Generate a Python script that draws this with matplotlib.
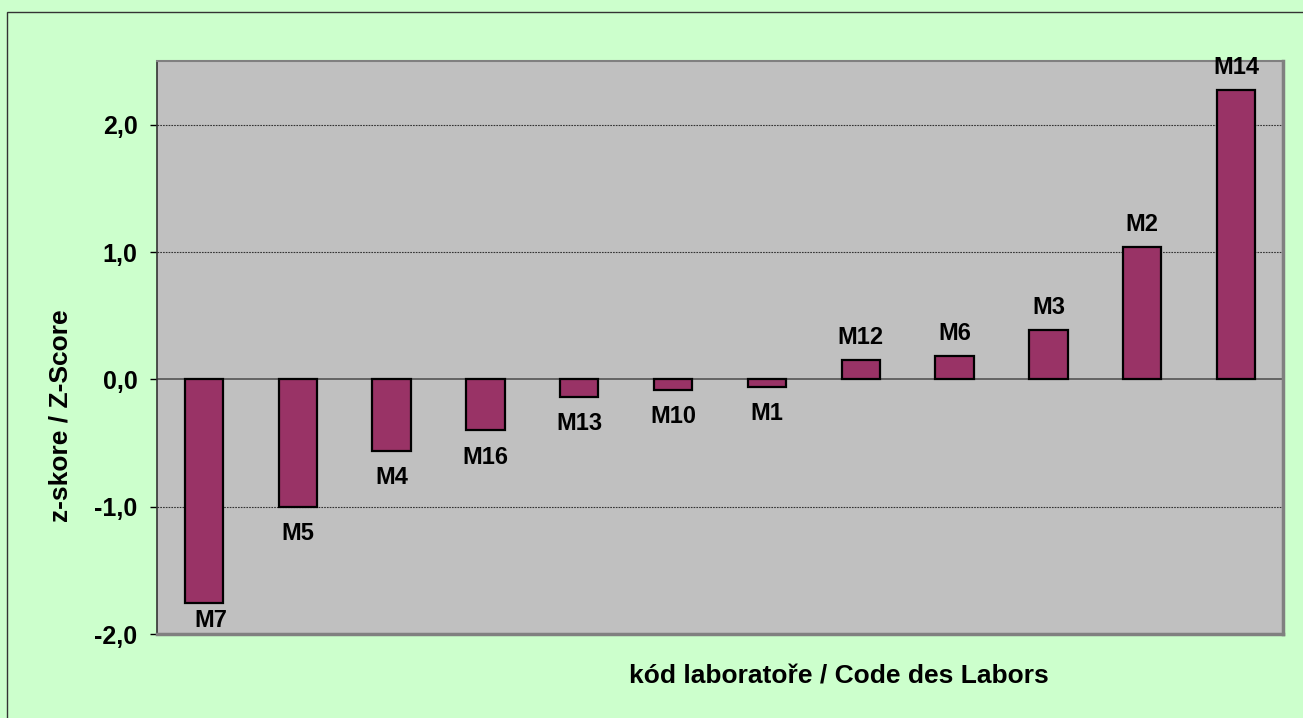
#!/usr/bin/env python3
"""z-score bar chart per laboratory."""

import matplotlib.pyplot as plt
from matplotlib.patches import Rectangle
from matplotlib.ticker import FuncFormatter
import numpy as np

labs = ["M7", "M5", "M4", "M16", "M13", "M10", "M1", "M12", "M6", "M3", "M2", "M14"]
zscores = [-1.76, -1.00, -0.56, -0.40, -0.14, -0.08, -0.06, 0.15, 0.18, 0.39, 1.04, 2.27]
yticks = [-2.0, -1.0, 0.0, 1.0, 2.0]

BG = "#ccffcc"
PLOT_BG = "#c0c0c0"
BAR = "#993366"
INK = "#000000"
FRAME = "#808080"

plt.rcParams["font.family"] = ["Liberation Sans", "DejaVu Sans"]
plt.rcParams["font.weight"] = "bold"

W, H = 1303, 718
fig = plt.figure(figsize=(W / 100, H / 100), dpi=100, facecolor=BG)

# outer chart frame (only left/top edges fall inside the picture)
fig.patches.append(Rectangle((7 / W, -0.01), 1.02, 1 - 12 / H + 0.01,
                             transform=fig.transFigure, fill=False,
                             edgecolor="#333333", linewidth=1.0))

left, right, top, bottom = 157, 1283, 61, 634
ax = fig.add_axes([left / W, 1 - bottom / H, (right - left) / W, (bottom - top) / H])
ax.set_facecolor(PLOT_BG)

x = np.arange(len(labs))
ax.bar(x, zscores, width=0.41, color=BAR, edgecolor=INK, linewidth=1.6, zorder=3)

for xi, v, name in zip(x, zscores, labs):
    if v >= 0:
        ax.annotate(name, (xi, v), xytext=(0, 8), textcoords="offset points",
                    ha="center", va="bottom", fontsize=17, fontweight="bold", zorder=4)
    elif v < -1.5:
        # label squeezed against the bottom of the plot area
        ax.annotate(name, (xi, v), xytext=(5, -4), textcoords="offset points",
                    ha="center", va="top", fontsize=17, fontweight="bold", zorder=4)
    else:
        ax.annotate(name, (xi, v), xytext=(0, -11), textcoords="offset points",
                    ha="center", va="top", fontsize=17, fontweight="bold", zorder=4)

ax.set_xlim(-0.5, len(labs) - 0.5)
ax.set_ylim(-2.0, 2.5)
ax.set_yticks(yticks)
ax.yaxis.set_major_formatter(FuncFormatter(lambda v, _: f"{v:.1f}".replace(".", ",")))
ax.set_xticks([])
ax.tick_params(axis="y", direction="out", length=5, width=1.0, color=INK,
               labelsize=18, pad=9)
for lab in ax.get_yticklabels():
    lab.set_fontweight("bold")

for g in [-1.0, 1.0, 2.0]:
    ax.axhline(g, color="#333333", linestyle=(0, (1.5, 1.0)), linewidth=0.8, zorder=1)
ax.axhline(0, color="#555555", linewidth=1.2, zorder=2)

ax.spines["left"].set_color("#333333")
ax.spines["left"].set_linewidth(1.2)
ax.spines["top"].set_color(FRAME)
ax.spines["top"].set_linewidth(1.5)
for s in ("right", "bottom"):
    ax.spines[s].set_color(FRAME)
    ax.spines[s].set_linewidth(2.5)

fig.text(60 / W, 1 - 416 / H, "z-skore / Z-Score", rotation=90, ha="center",
         va="center", fontsize=19, fontweight="bold")
fig.text(839 / W, 1 - 677 / H, "kód laboratoře / Code des Labors", ha="center",
         va="center", fontsize=19, fontweight="bold")

fig.savefig("out.png", dpi=100, facecolor=BG)
